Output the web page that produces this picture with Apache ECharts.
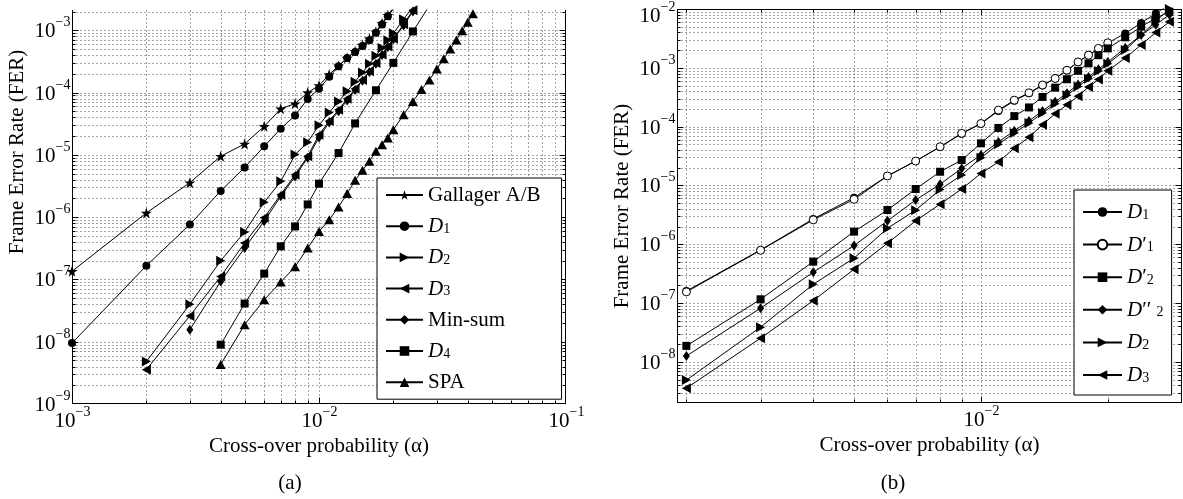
<!DOCTYPE html>
<html><head><meta charset="utf-8">
<script src="https://cdn.jsdelivr.net/npm/echarts@6/dist/echarts.min.js"></script>
<style>html,body{margin:0;padding:0;background:#fff}#c{width:1183px;height:499px}</style>
</head><body><div id="c"></div>
<script>
// ---------------- Panel (a) data ----------------
const A_X_GAL = [0.001,0.002,0.003,0.004,0.005,0.006,0.007,0.008,0.009,0.010,0.011,0.012,0.013,0.014,0.015,0.016,0.017,0.018,0.019,0.020];
const A_Y_GAL = [1.35e-7,1.17e-6,3.58e-6,9.5e-6,1.5e-5,2.87e-5,5.5e-5,6.65e-5,1.0e-4,1.3e-4,1.95e-4,2.7e-4,3.6e-4,4.6e-4,5.8e-4,7.3e-4,9.5e-4,1.3e-3,1.75e-3,2.3e-3];
const A_X_D1 = [0.001,0.002,0.003,0.004,0.005,0.006,0.007,0.008,0.009,0.010,0.011,0.012,0.013,0.014,0.015,0.016,0.017,0.018,0.019,0.020];
const A_Y_D1 = [9.5e-9,1.66e-7,7.6e-7,2.64e-6,6.3e-6,1.37e-5,2.64e-5,4.3e-5,7.9e-5,1.15e-4,1.79e-4,2.64e-4,3.6e-4,4.5e-4,5.6e-4,6.9e-4,9.1e-4,1.24e-3,1.68e-3,2.2e-3];
const A_X_D2 = [0.002,0.003,0.004,0.005,0.006,0.007,0.008,0.009,0.010,0.011,0.012,0.013,0.014,0.015,0.016,0.017,0.018,0.019,0.020,0.022,0.024];
const A_Y_D2 = [4.8e-9,4.0e-8,2.0e-7,5.8e-7,1.73e-6,3.76e-6,1.01e-5,1.6e-5,3.0e-5,4.8e-5,7.2e-5,1.05e-4,1.5e-4,2.1e-4,2.9e-4,3.9e-4,5.2e-4,6.9e-4,9.0e-4,1.5e-3,2.4e-3];
const A_X_D3 = [0.002,0.003,0.004,0.005,0.006,0.007,0.008,0.009,0.010,0.011,0.012,0.013,0.014,0.015,0.016,0.017,0.018,0.019,0.020,0.022,0.024];
const A_Y_D3 = [3.56e-9,2.6e-8,1.12e-7,3.85e-7,9.8e-7,2.3e-6,4.8e-6,9.5e-6,2.1e-5,3.5e-5,5.3e-5,8.0e-5,1.15e-4,1.6e-4,2.2e-4,3.0e-4,4.1e-4,5.5e-4,7.3e-4,1.25e-3,2.1e-3];
const A_X_MS = [0.003,0.004,0.005,0.006,0.007,0.008,0.009,0.010,0.011,0.012,0.013,0.014,0.015,0.016,0.017,0.018,0.019,0.020,0.022,0.024];
const A_Y_MS = [1.56e-8,9.3e-8,3.2e-7,8.6e-7,2.16e-6,4.5e-6,9.0e-6,1.9e-5,3.3e-5,5.0e-5,7.5e-5,1.1e-4,1.55e-4,2.15e-4,2.9e-4,4.0e-4,5.4e-4,7.2e-4,1.2e-3,2.0e-3];
const A_X_D4 = [0.004,0.005,0.006,0.007,0.008,0.009,0.010,0.012,0.014,0.017,0.020,0.024,0.028];
const A_Y_D4 = [8.97e-9,4.1e-8,1.24e-7,3.4e-7,7.1e-7,1.6e-6,3.45e-6,1.07e-5,3.2e-5,1.09e-4,3.0e-4,9.6e-4,2.5e-3];
const A_X_SPA = [0.004,0.005,0.006,0.007,0.008,0.009,0.010,0.011,0.012,0.013,0.014,0.015,0.016,0.017,0.018,0.019,0.020,0.022,0.024,0.026,0.028,0.030,0.032,0.034,0.036,0.038,0.040,0.042];
const A_Y_SPA = [4.3e-9,1.88e-8,4.7e-8,9.1e-8,1.6e-7,3.2e-7,5.9e-7,9.1e-7,1.46e-6,2.39e-6,3.9e-6,5.65e-6,7.9e-6,1.14e-5,1.45e-5,1.87e-5,2.54e-5,4.4e-5,7.2e-5,1.12e-4,1.6e-4,2.4e-4,3.5e-4,5.0e-4,7.0e-4,9.8e-4,1.35e-3,1.85e-3];

// ---------------- Panel (b) data ----------------
const B_X = [0.002,0.003,0.004,0.005,0.006,0.007,0.008,0.009,0.010,0.011,0.012,0.013,0.014,0.015,0.016,0.017,0.018,0.019,0.020,0.022,0.024,0.026,0.028];
const B_X_D1P = [0.002,0.003,0.004,0.005,0.006,0.007,0.008,0.009,0.010,0.011,0.012,0.013,0.014,0.015,0.016,0.017,0.018,0.019,0.020];
const B_Y_D1 = [1.6e-7,8.0e-7,2.7e-6,6.2e-6,1.45e-5,2.6e-5,4.5e-5,7.6e-5,1.12e-4,1.85e-4,2.75e-4,3.7e-4,5.0e-4,6.6e-4,9.0e-4,1.25e-3,1.65e-3,2.1e-3,2.65e-3,3.85e-3,5.8e-3,8.4e-3,1.2e-2];
const B_Y_D1P = [1.55e-7,7.9e-7,2.6e-6,5.8e-6,1.45e-5,2.6e-5,4.55e-5,7.7e-5,1.13e-4,1.91e-4,2.82e-4,3.76e-4,5.1e-4,6.6e-4,9.1e-4,1.26e-3,1.64e-3,2.14e-3,2.66e-3];
const B_Y_D2P = [1.87e-8,1.16e-7,5.06e-7,1.64e-6,3.82e-6,8.7e-6,1.71e-5,2.7e-5,5.2e-5,9.5e-5,1.51e-4,2.12e-4,3.2e-4,4.6e-4,6.4e-4,8.9e-4,1.19e-3,1.64e-3,2.14e-3,3.3e-3,5.0e-3,7.0e-3,9.0e-3];
const B_Y_D2PP = [1.26e-8,8.2e-8,3.34e-7,9.5e-7,2.5e-6,5.65e-6,1.05e-5,1.95e-5,3.3e-5,5.5e-5,8.5e-5,1.25e-4,1.85e-4,2.65e-4,3.7e-4,5.2e-4,7.0e-4,9.5e-4,1.25e-3,2.2e-3,3.6e-3,5.4e-3,8.0e-3];
const B_Y_D2 = [4.9e-9,3.9e-8,2.09e-7,5.8e-7,1.87e-6,3.8e-6,8.5e-6,1.5e-5,2.96e-5,5.0e-5,7.8e-5,1.15e-4,1.7e-4,2.45e-4,3.4e-4,4.8e-4,6.5e-4,8.8e-4,1.17e-3,2.0e-3,3.6e-3,6.2e-3,1.0e-2];
const B_Y_D3 = [3.57e-9,2.53e-8,1.1e-7,3.76e-7,1.04e-6,2.5e-6,4.8e-6,8.7e-6,1.6e-5,2.5e-5,4.3e-5,6.6e-5,1.08e-4,1.66e-4,2.35e-4,3.3e-4,4.7e-4,6.3e-4,8.9e-4,1.47e-3,2.45e-3,4.0e-3,6.05e-3];

// ---------------- Axis ticks / labels ----------------
const A_X_MAJOR = [1e-3, 1e-2, 1e-1];
const A_X_LABELS = ['\u22123', '\u22122', '\u22121'];
const A_Y_MAJOR = [1e-9, 1e-8, 1e-7, 1e-6, 1e-5, 1e-4, 1e-3];
const A_Y_LABELS = ['\u22129', '\u22128', '\u22127', '\u22126', '\u22125', '\u22124', '\u22123'];
const B_X_MAJOR = [1e-2];
const B_X_LABELS = ['\u22122'];
const B_Y_MAJOR = [1e-8, 1e-7, 1e-6, 1e-5, 1e-4, 1e-3, 1e-2];
const B_Y_LABELS = ['\u22128', '\u22127', '\u22126', '\u22125', '\u22124', '\u22123', '\u22122'];
const MINOR_MULT = [2, 3, 4, 5, 6, 7, 8, 9];
function minors(e0, e1) { const r = []; for (let e = e0; e <= e1; e++) MINOR_MULT.forEach(k => r.push(+(k * Math.pow(10, e)).toPrecision(6))); return r; }

const X_NAME = 'Cross-over probability (\u03b1)';
const Y_NAME = 'Frame Error Rate (FER)';
const A_NAMES = ['Gallager A/B', 'D1', 'D2', 'D3', 'Min-sum', 'D4', 'SPA'];
const B_NAMES = ['D1', "D1'", "D2'", "D''2", 'D2', 'D3'];
const LEGEND_TEXT = {
  'Gallager A/B': '{n|Gallager A/B}', 'Min-sum': '{n|Min-sum}', 'SPA': '{n|SPA}',
  'D1': '{d|D}{u|1}', 'D2': '{d|D}{u|2}', 'D3': '{d|D}{u|3}', 'D4': '{d|D}{u|4}',
  "D1'": '{d|D}{n|\u2032}{u|1}', "D2'": '{d|D}{n|\u2032}{u|2}', "D''2": '{d|D}{n|\u2032\u2032 }{u|2}'
};

const FONT = 'Liberation Serif, serif';
const STAR = 'path://M50,0 L61.8,35.1 L98.1,35.1 L68.8,56.7 L79.4,91 L50,70 L20.6,91 L31.2,56.7 L1.9,35.1 L38.2,35.1 Z';
const RIGHT_TRI = 'path://M0,0 L10,5 L0,10 Z';
const LEFT_TRI = 'path://M10,0 L0,5 L10,10 Z';
const SYM = {
  star: {symbol: STAR, size: 11},
  dot: {symbol: 'circle', size: 8},
  ring: {symbol: 'circle', size: 8, open: true},
  right: {symbol: RIGHT_TRI, size: [9, 10]},
  left: {symbol: LEFT_TRI, size: [9, 10]},
  diamond: {symbol: 'diamond', size: [7, 10]},
  square: {symbol: 'rect', size: 8},
  up: {symbol: 'triangle', size: [10, 9]}
};

const FRAME_A = {xMin: 1e-3, xMax: 1e-1, yMin: 1e-9, yMax: 2.12e-3,
  xMajor: A_X_MAJOR, xLab: A_X_LABELS, yMajor: A_Y_MAJOR, yLab: A_Y_LABELS,
  xMinor: minors(-3, -2), yMinor: minors(-9, -3), top: false};
const FRAME_B = {xMin: 1.9e-3, xMax: 3.0e-2, yMin: 2e-9, yMax: 1e-2,
  xMajor: B_X_MAJOR, xLab: B_X_LABELS, yMajor: B_Y_MAJOR, yLab: B_Y_LABELS,
  xMinor: minors(-3, -2), yMinor: minors(-9, -3), top: true};

const TICK_RICH = {
  b: {fontFamily: FONT, fontSize: 21, lineHeight: 26, verticalAlign: 'bottom', fill: '#000', color: '#000'},
  s: {fontFamily: FONT, fontSize: 14, lineHeight: 14, verticalAlign: 'top', fill: '#000', color: '#000'}
};

function frame(cfg) {
  return function (params, api) {
    const out = [];
    const c = (x, y) => api.coord([x, y]);
    const p0 = c(cfg.xMin, cfg.yMin), p1 = c(cfg.xMax, cfg.yMax);
    const L = Math.round(p0[0]) + 0.5, B = Math.round(p0[1]) - 0.5;
    const R = Math.round(p1[0]) - 0.5, T = Math.round(p1[1]) + 0.5;
    const X = v => Math.round(c(v, cfg.yMin)[0]) + 0.5;
    const Y = v => Math.round(c(cfg.xMin, v)[1]) + 0.5;
    const inside = (v, a, b) => v > a * 1.001 && v < b / 1.001;
    const gridSt = {stroke: '#4a4a4a', lineWidth: 1, lineDash: [1, 3], fill: null};
    const solid = {stroke: '#000', lineWidth: 1, fill: null};
    const seg = (x1, y1, x2, y2, st) => out.push({type: 'line', shape: {x1, y1, x2, y2}, style: st, silent: true});
    const xs = cfg.xMajor.map(v => [v, 6]).concat(cfg.xMinor.map(v => [v, 3])).filter(d => inside(d[0], cfg.xMin, cfg.xMax));
    const ys = cfg.yMajor.map(v => [v, 6]).concat(cfg.yMinor.map(v => [v, 3])).filter(d => inside(d[0], cfg.yMin, cfg.yMax));
    xs.forEach(([v, len]) => { const x = X(v); seg(x, T, x, B, gridSt); seg(x, B, x, B - len, solid); if (cfg.top) seg(x, T, x, T + len, solid); });
    ys.forEach(([v, len]) => { const y = Y(v); seg(L, y, R, y, gridSt); seg(L, y, L + len, y, solid); seg(R, y, R - len, y, solid); });
    seg(L, T - 0.5, L, B + 0.5, solid); seg(L - 0.5, B, R + 0.5, B, solid); seg(R, T - 0.5, R, B + 0.5, solid);
    if (cfg.top) seg(L - 0.5, T, R + 0.5, T, solid);
    cfg.xMajor.forEach((v, i) => {
      if (v < cfg.xMin / 1.001 || v > cfg.xMax * 1.001) return;
      out.push({type: 'text', x: X(v), y: B + 2, silent: true,
        style: {text: '{b|10}{s|' + cfg.xLab[i] + '}', rich: TICK_RICH, align: 'center', verticalAlign: 'top', fill: '#000'}});
    });
    cfg.yMajor.forEach((v, i) => {
      if (v < cfg.yMin / 1.001 || v > cfg.yMax * 1.001) return;
      out.push({type: 'text', x: L - 2, y: Math.max(Y(v) - 2, 13.5), silent: true,
        style: {text: '{b|10}{s|' + cfg.yLab[i] + '}', rich: TICK_RICH, align: 'right', verticalAlign: 'middle', fill: '#000'}});
    });
    return {type: 'group', children: out};
  };
}

function line(name, xs, ys, sym, gi) {
  return {
    type: 'line', name, xAxisIndex: gi, yAxisIndex: gi,
    data: xs.map((x, i) => [x, ys[i]]),
    symbol: sym.symbol, symbolSize: sym.size, showSymbol: true, showAllSymbol: true,
    lineStyle: {color: '#000', width: 1},
    itemStyle: sym.open ? {color: '#fff', borderColor: '#000', borderWidth: 1} : {color: '#000', borderColor: '#000', borderWidth: 0},
    emphasis: {disabled: true}, silent: true, clip: true, z: 3, animation: false
  };
}

const LEG_RICH = {
  n: {fontFamily: FONT, fontSize: 21, lineHeight: 20, verticalAlign: 'top', padding: [0, 0, 2, 0], color: '#000'},
  d: {fontFamily: FONT, fontSize: 21, fontStyle: 'italic', lineHeight: 20, verticalAlign: 'top', padding: [0, 0, 2, 0], color: '#000'},
  u: {fontFamily: FONT, fontSize: 14, lineHeight: 14, verticalAlign: 'bottom', color: '#000'}
};
function legend(names, left, top, padding, gap, iw) {
  return {
    data: names, orient: 'vertical', left, top, padding, itemGap: gap, itemWidth: iw, itemHeight: 12,
    backgroundColor: '#fff', borderColor: '#000', borderWidth: 1, borderRadius: 0, selectedMode: false,
    formatter: n => LEGEND_TEXT[n], textStyle: {fontFamily: FONT, fontSize: 21, color: '#000', rich: LEG_RICH}
  };
}
const axisOff = {axisLine: {show: false}, axisTick: {show: false}, axisLabel: {show: false}, splitLine: {show: false}};
const nameStyle = {fontFamily: FONT, fontSize: 21, color: '#000'};

const chart = echarts.init(document.getElementById('c'), null, {renderer: 'canvas'});
chart.setOption({
  animation: false, backgroundColor: '#fff',
  textStyle: {fontFamily: FONT, color: '#000'},
  grid: [
    {left: 72, top: 10, width: 494, height: 394, containLabel: false, outerBoundsMode: 'none'},
    {left: 677, top: 9, width: 505, height: 394, containLabel: false, outerBoundsMode: 'none'}
  ],
  xAxis: [
    Object.assign({gridIndex: 0, type: 'log', logBase: 10, min: FRAME_A.xMin, max: FRAME_A.xMax, name: X_NAME, nameLocation: 'middle', nameGap: 32, nameTextStyle: nameStyle}, axisOff),
    Object.assign({gridIndex: 1, type: 'log', logBase: 10, min: FRAME_B.xMin, max: FRAME_B.xMax, name: X_NAME, nameLocation: 'middle', nameGap: 32, nameTextStyle: nameStyle}, axisOff)
  ],
  yAxis: [
    Object.assign({gridIndex: 0, type: 'log', logBase: 10, min: FRAME_A.yMin, max: FRAME_A.yMax, name: Y_NAME, nameLocation: 'middle', nameRotate: 90, nameGap: 44,
      nameTextStyle: Object.assign({padding: [0, 0, 0, 110]}, nameStyle)}, axisOff),
    Object.assign({gridIndex: 1, type: 'log', logBase: 10, min: FRAME_B.yMin, max: FRAME_B.yMax, name: Y_NAME, nameLocation: 'middle', nameRotate: 90, nameGap: 44, nameTextStyle: nameStyle}, axisOff)
  ],
  legend: [
    legend(A_NAMES, 377, 178, [7, 21, 4, 8], 8.2, 37),
    legend(B_NAMES, 1074, 190, [12, 8, 7, 8], 9.6, 39)
  ],
  graphic: [
    {type: 'text', x: 290, y: 483, silent: true, style: {text: '(a)', fontFamily: FONT, fontSize: 21, fill: '#000', align: 'center', verticalAlign: 'middle'}},
    {type: 'text', x: 893, y: 483, silent: true, style: {text: '(b)', fontFamily: FONT, fontSize: 21, fill: '#000', align: 'center', verticalAlign: 'middle'}}
  ],
  series: [
    {type: 'custom', xAxisIndex: 0, yAxisIndex: 0, data: [[FRAME_A.xMin, FRAME_A.yMin]], renderItem: frame(FRAME_A), clip: false, silent: true, z: 0},
    {type: 'custom', xAxisIndex: 1, yAxisIndex: 1, data: [[FRAME_B.xMin, FRAME_B.yMin]], renderItem: frame(FRAME_B), clip: false, silent: true, z: 0},
    line('Gallager A/B', A_X_GAL, A_Y_GAL, SYM.star, 0),
    line('D1', A_X_D1, A_Y_D1, SYM.dot, 0),
    line('D2', A_X_D2, A_Y_D2, SYM.right, 0),
    line('D3', A_X_D3, A_Y_D3, SYM.left, 0),
    line('Min-sum', A_X_MS, A_Y_MS, SYM.diamond, 0),
    line('D4', A_X_D4, A_Y_D4, SYM.square, 0),
    line('SPA', A_X_SPA, A_Y_SPA, SYM.up, 0),
    line('D1', B_X, B_Y_D1, SYM.dot, 1),
    line("D1'", B_X_D1P, B_Y_D1P, SYM.ring, 1),
    line("D2'", B_X, B_Y_D2P, SYM.square, 1),
    line("D''2", B_X, B_Y_D2PP, SYM.diamond, 1),
    line('D2', B_X, B_Y_D2, SYM.right, 1),
    line('D3', B_X, B_Y_D3, SYM.left, 1)
  ]
});
</script>
</body></html>
